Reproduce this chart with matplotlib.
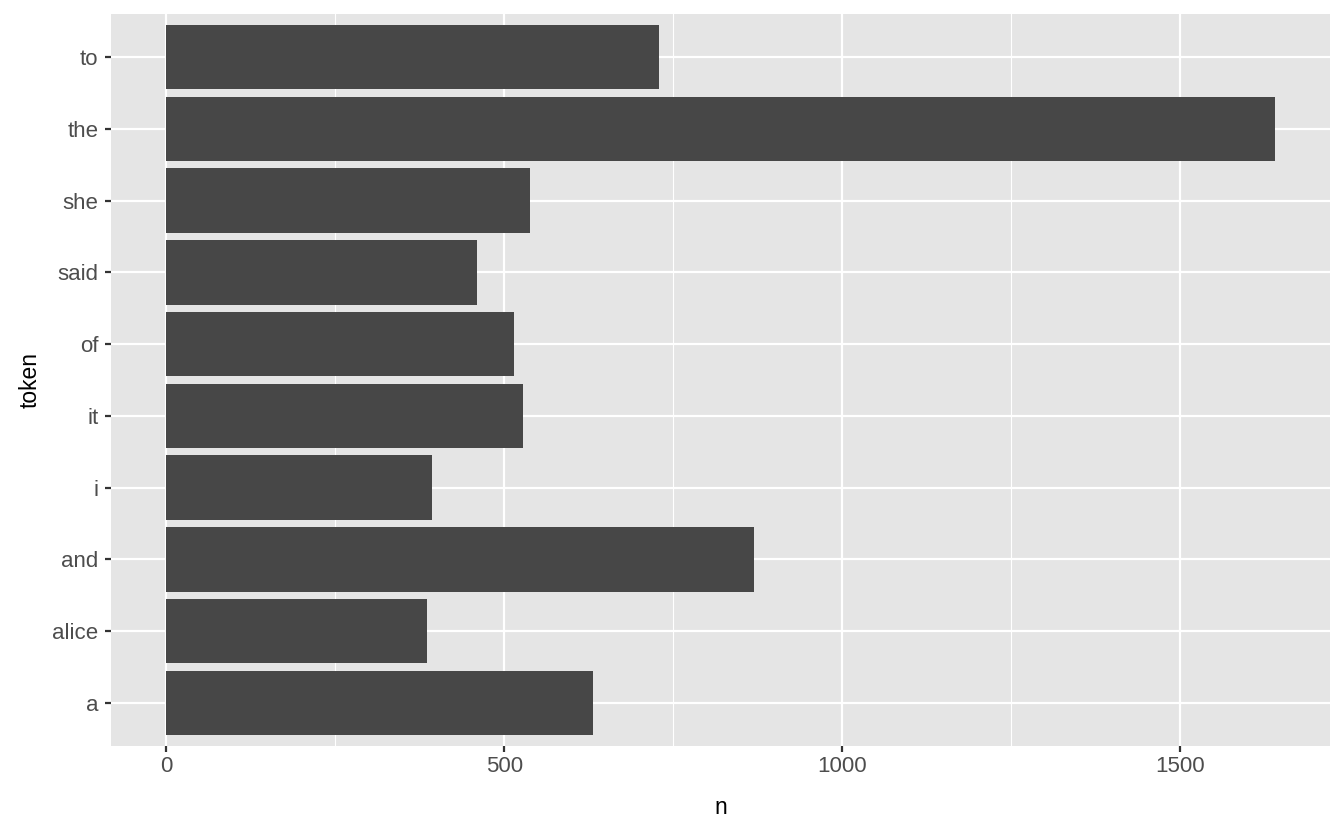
import matplotlib
matplotlib.use("Agg")
import matplotlib.pyplot as plt
from matplotlib.ticker import MultipleLocator

# token counts
tokens = ["a", "alice", "and", "i", "it", "of", "said", "she", "the", "to"]
counts = [632, 386, 870, 393, 527, 515, 460, 538, 1640, 729]

plt.rcParams["font.family"] = ["Liberation Sans", "DejaVu Sans"]

fig = plt.figure(figsize=(13.44, 8.30), dpi=100)
ax = fig.add_axes([111 / 1344, 1 - 746 / 830, (1330 - 111) / 1344, (746 - 14) / 830])

ax.set_facecolor("#E5E5E5")
ypos = list(range(1, len(tokens) + 1))
ax.barh(ypos, counts, height=0.9, color="#474747", zorder=3)

ax.set_xlim(-82, 1722)
ax.set_ylim(0.4, len(tokens) + 0.6)
ax.set_xticks([0, 500, 1000, 1500])
ax.set_xticklabels(["0", "500", "1000", "1500"])
ax.xaxis.set_minor_locator(MultipleLocator(250))
ax.set_yticks(ypos)
ax.set_yticklabels(tokens)

ax.grid(which="major", color="white", linewidth=1.6, zorder=1)
ax.grid(which="minor", axis="x", color="white", linewidth=0.8, zorder=1)
for s in ax.spines.values():
    s.set_visible(False)

ax.tick_params(axis="both", which="major", length=4, width=1.6, color="#333333",
               labelsize=16, labelcolor="#4D4D4D", pad=3)
ax.tick_params(axis="y", which="major", pad=5)
ax.tick_params(axis="both", which="minor", length=0)

ax.set_xlabel("n", fontsize=16.5, labelpad=14)
ax.set_ylabel("token", fontsize=16.5, labelpad=8)

fig.savefig("out.png", dpi=100, facecolor="white")
